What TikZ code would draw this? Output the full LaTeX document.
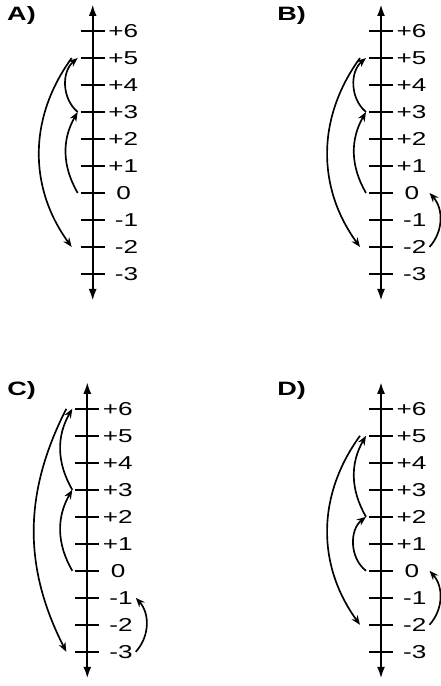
\documentclass[tikz,border=0pt]{standalone}
\usepackage{fontspec}
\newfontfamily\lblfont[FakeStretch=1.4]{Liberation Sans}
\usetikzlibrary{arrows.meta}

\tikzset{
  axisline/.style={line width=1.7pt,<->},
  tickmark/.style={line width=1.5pt},
  numlbl/.style={inner sep=0pt,font=\lblfont\fontsize{14}{16}\selectfont},
  panellbl/.style={inner sep=0pt,font=\lblfont\bfseries\fontsize{14.5}{16}\selectfont},
  jump/.style={line width=1.25pt,-{Stealth[length=7pt,width=5.5pt]}}
}

% one number line, its zero at (#2,#3)
\newcommand{\axispanel}[3]{%
  \begin{scope}[shift={(#2,#3)}]
    \coordinate (#1top) at (0,189);
    \coordinate (#1bot) at (0,-108);
    \draw[axisline] (#1bot) -- (#1top);
    \foreach \k/\nm in {-3/m3,-2/m2,-1/m1,0/0,1/1,2/2,3/3,4/4,5/5,6/6}{
      \draw[tickmark] (-12,27*\k) -- (12,27*\k);
      \coordinate (#1\nm) at (-15,27*\k);
      \coordinate (#1o\nm) at (-21,27*\k);
      \coordinate (#1r\nm) at (48.5,27*\k);
    }
    \foreach \k/\nm/\lab in {-3/m3/-3,-2/m2/-2,-1/m1/-1,1/1/+1,2/2/+2,3/3/+3,4/4/+4,5/5/+5,6/6/+6}
      \node[numlbl,anchor=east] (#1l\nm) at (45.7,27*\k) {\lab};
    \node[numlbl,anchor=east] (#1l0) at (38.5,0) {0};
  \end{scope}}

\begin{document}
\begin{tikzpicture}[x=0.75pt,y=0.75pt,>={Latex[length=9pt,width=6pt]}]
  \useasboundingbox (0,0) rectangle (441,686);
  \axispanel{A}{92.7}{493}
  \axispanel{B}{381}{493}
  \axispanel{C}{87.3}{115.2}
  \axispanel{D}{381}{115.2}

  \node[panellbl] (labA) at (21.5,670.5) {A)};
  \node[panellbl] (labB) at (291.7,670.5) {B)};
  \node[panellbl] (labC) at (21.7,295.2) {C)};
  \node[panellbl] (labD) at (291.7,295.2) {D)};

  % A
  \draw[jump] (A0) to[bend left=30] (A3);
  \draw[jump] (A3) to[bend left=50] (A5);
  \draw[jump] (Ao5) to[bend right=36] (Aom2);
  % B
  \draw[jump] (B0) to[bend left=30] (B3);
  \draw[jump] (B3) to[bend left=50] (B5);
  \draw[jump] (Bo5) to[bend right=36] (Bom2);
  \draw[jump] (Brm2) to[bend right=42] (Br0);
  % C
  \draw[jump] (C0) to[bend left=30] (C3);
  \draw[jump] (C3) to[bend left=30] (C6);
  \draw[jump] (Co6) to[bend right=27] (Com3);
  \draw[jump] (Crm3) to[bend right=42] (Crm1);
  % D
  \draw[jump] (D0) to[bend left=52] (D2);
  \draw[jump] (D2) to[bend left=30] (D5);
  \draw[jump] (Do5) to[bend right=36] (Dom2);
  \draw[jump] (Drm2) to[bend right=42] (Dr0);
\end{tikzpicture}
\end{document}
